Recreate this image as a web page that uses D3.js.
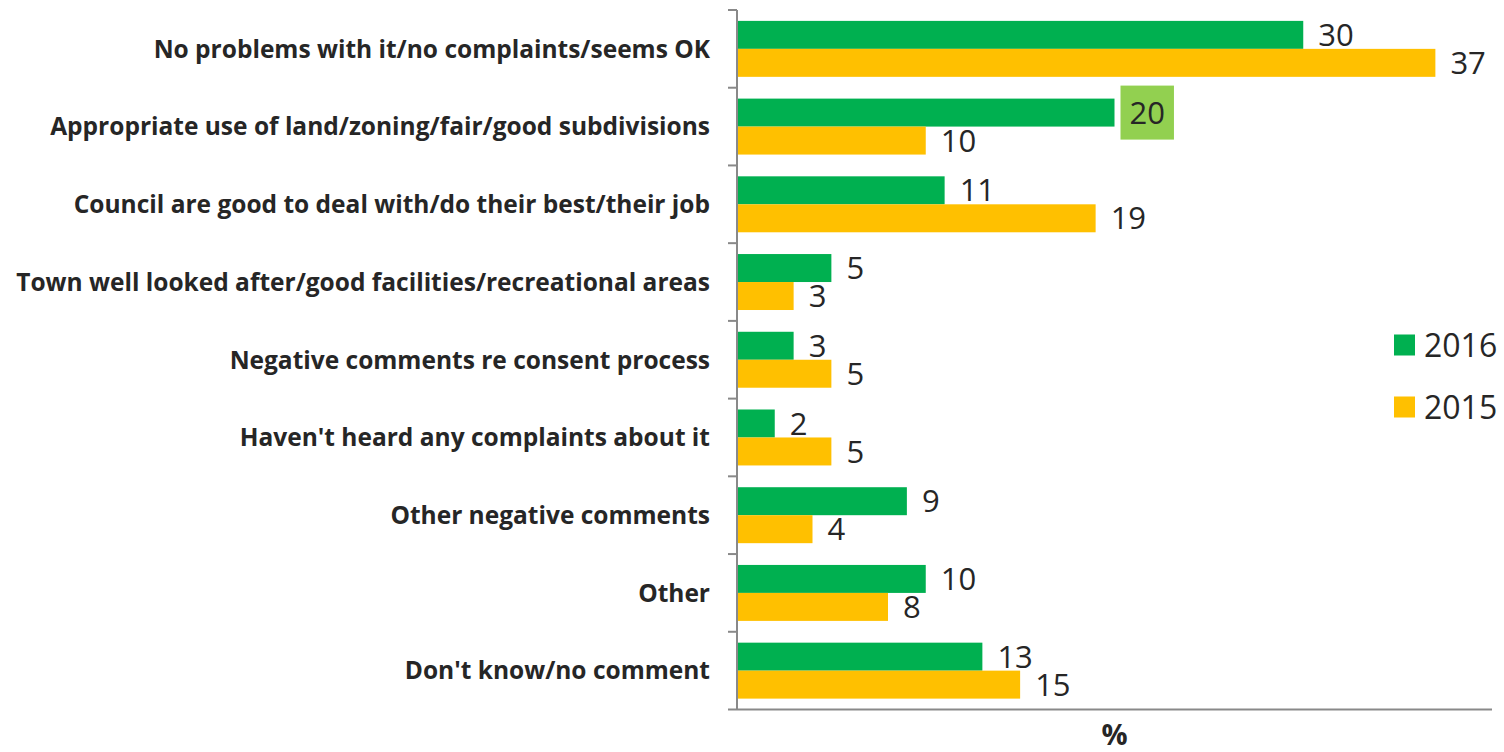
<!DOCTYPE html>
<html>
<head>
<meta charset="utf-8">
<script src="https://cdn.jsdelivr.net/npm/d3@7"></script>
<style>
  html, body { margin: 0; padding: 0; background: #ffffff; }
  svg { display: block; }
</style>
</head>
<body>
<svg id="chart" width="1504" height="752"></svg>
<script>
// Survey responses by year (percent)
const categories = [
  "No problems with it/no complaints/seems OK",
  "Appropriate use of land/zoning/fair/good subdivisions",
  "Council are good to deal with/do their best/their job",
  "Town well looked after/good facilities/recreational areas",
  "Negative comments re consent process",
  "Haven't heard any complaints about it",
  "Other negative comments",
  "Other",
  "Don't know/no comment"
];
const seriesNames = ["2016", "2015"];
const values2016 = [30, 20, 11, 5, 3, 2, 9, 10, 13];
const values2015 = [37, 10, 19, 3, 5, 5, 4, 8, 15];
const highlighted = [{ series: "2016", category: "Appropriate use of land/zoning/fair/good subdivisions" }];
const xMax = 40;
const axisTitle = "%";

const colors = { "2016": "#00B050", "2015": "#FFC000" };
const highlightFill = "#92D050";
const textColor = "#262626";
const axisColor = "#898989";
const font = "'Open Sans', 'Noto Sans', sans-serif";

const svg = d3.select("#chart");
const plot = { left: 737, right: 1492, top: 10, bottom: 709.5 };

const x = d3.scaleLinear().domain([0, xMax]).range([plot.left, plot.right]);
const y = d3.scaleBand().domain(categories).range([plot.top, plot.bottom]).padding(0);
const groupSize = y.bandwidth() * 0.72;
const yInner = d3.scaleBand().domain(seriesNames)
  .range([(y.bandwidth() - groupSize) / 2, (y.bandwidth() + groupSize) / 2]).padding(0);

const rows = categories.map((c, i) => ({
  category: c,
  values: [
    { series: "2016", value: values2016[i] },
    { series: "2015", value: values2015[i] }
  ]
}));

// Bars
const groups = svg.append("g").selectAll("g").data(rows).join("g")
  .attr("transform", d => `translate(0,${y(d.category)})`);

groups.selectAll("rect").data(d => d.values.map(v => ({ ...v, category: d.category }))).join("rect")
  .attr("x", x(0))
  .attr("y", d => yInner(d.series))
  .attr("width", d => x(d.value) - x(0))
  .attr("height", yInner.bandwidth())
  .attr("fill", d => colors[d.series]);

// Value labels
const valueFont = 31;
groups.each(function(row) {
  const g = d3.select(this);
  row.values.forEach(v => {
    const cy = yInner(v.series) + yInner.bandwidth() / 2;
    const isHi = highlighted.some(h => h.series === v.series && h.category === row.category);
    const t = g.append("text")
      .attr("x", x(v.value) + 15)
      .attr("y", cy + valueFont * 0.36)
      .attr("font-family", font)
      .attr("font-size", valueFont)
      .attr("fill", textColor)
      .text(v.value);
    if (isHi) {
      const bb = t.node().getBBox();
      g.insert("rect", "text")
        .attr("x", bb.x - 9)
        .attr("y", cy - 27)
        .attr("width", bb.width + 18)
        .attr("height", 54)
        .attr("fill", highlightFill);
    }
  });
});

// Category axis
const yAxis = svg.append("g")
  .attr("transform", `translate(${plot.left},0)`)
  .call(d3.axisLeft(y).tickSize(0).tickPadding(27));
yAxis.select(".domain").remove();
const catLabels = yAxis.selectAll(".tick text")
  .attr("font-family", font)
  .attr("font-weight", "bold")
  .attr("font-size", 20)
  .attr("fill", textColor);
// fit the longest label into the space left of the axis
let maxW = 0;
catLabels.each(function() { maxW = Math.max(maxW, this.getComputedTextLength()); });
const labelFont = 20 * 694 / maxW;
catLabels.attr("font-size", labelFont).attr("dy", "0.36em");

const boundaries = categories.map(c => y(c)).concat([y(categories[categories.length - 1]) + y.bandwidth()]);
svg.append("line")
  .attr("x1", plot.left).attr("x2", plot.left)
  .attr("y1", plot.top).attr("y2", plot.bottom)
  .attr("stroke", axisColor).attr("stroke-width", 2);
svg.append("g").selectAll("line").data(boundaries).join("line")
  .attr("x1", plot.left - 9).attr("x2", plot.left)
  .attr("y1", d => d).attr("y2", d => d)
  .attr("stroke", axisColor).attr("stroke-width", 2);

// Value axis line (no ticks)
svg.append("line")
  .attr("x1", plot.left).attr("x2", x(xMax))
  .attr("y1", plot.bottom).attr("y2", plot.bottom)
  .attr("stroke", axisColor).attr("stroke-width", 2);

svg.append("text")
  .attr("x", (x(0) + x(xMax)) / 2)
  .attr("y", 745)
  .attr("text-anchor", "middle")
  .attr("font-family", font)
  .attr("font-weight", "bold")
  .attr("font-size", 29)
  .attr("fill", textColor)
  .text(axisTitle);

// Legend
const legend = svg.append("g").selectAll("g").data(seriesNames).join("g")
  .attr("transform", (d, i) => `translate(1394,${345 + i * 62})`);
legend.append("rect")
  .attr("x", 0).attr("y", -10.5)
  .attr("width", 21).attr("height", 21)
  .attr("fill", d => colors[d]);
legend.append("text")
  .attr("x", 30)
  .attr("y", 32 * 0.36)
  .attr("font-family", font)
  .attr("font-size", 32)
  .attr("fill", textColor)
  .text(d => d);
</script>
</body>
</html>
